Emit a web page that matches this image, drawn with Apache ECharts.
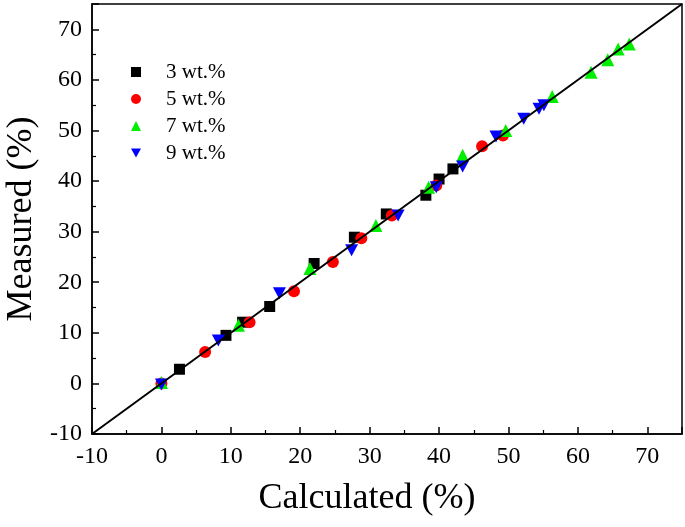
<!DOCTYPE html>
<html><head><meta charset="utf-8">
<script src="https://cdn.jsdelivr.net/npm/echarts@6/dist/echarts.min.js"></script>
<style>html,body{margin:0;padding:0;background:#fff}#c{width:685px;height:527px}</style>
</head><body><div id="c"></div>
<script>
const seriesNames = ['3 wt.%', '5 wt.%', '7 wt.%', '9 wt.%'];
const wt3 = [[2.6,2.8],[9.3,9.5],[11.7,12.1],[15.6,15.2],[22.0,23.7],[27.8,28.9],[32.4,33.5],[38.1,37.2],[40.0,40.4],[42.0,42.4]];
const wt5 = [[0,0],[6.3,6.2],[12.7,12.1],[19.1,18.2],[24.7,24.0],[28.8,28.7],[33.2,33.2],[39.6,39.1],[46.2,46.9],[49.2,49.0]];
const wt7 = [[0,0.2],[11.1,11.5],[21.4,22.7],[30.9,31.2],[38.5,38.8],[43.4,45.1],[49.6,50.0],[56.3,56.7],[61.9,61.5],[64.3,64.0],[65.8,66.1],[67.4,67.1]];
const wt9 = [[0,-0.2],[8.2,8.5],[17.0,17.8],[27.4,26.3],[34.1,33.2],[39.6,38.8],[43.4,42.9],[48.2,48.8],[52.2,52.3],[54.4,54.3],[55.1,55.0]];
const refLine = [[-10,-10],[75,75]];
const axisMin = -10, axisMax = 75, axisStep = 10;

const font = 'Liberation Serif, Times New Roman, serif';
const chart = echarts.init(document.getElementById('c'));
const axisCommon = {
  type: 'value', min: axisMin, max: axisMax, interval: axisStep,
  axisLine: {show: true, onZero: false, lineStyle: {color: '#000', width: 1.5}},
  axisTick: {show: true, inside: true, length: 7, lineStyle: {color: '#000', width: 1.5}},
  minorTick: {show: true, splitNumber: 2, length: 4, lineStyle: {color: '#000', width: 1.2}},
  splitLine: {show: false},
  axisLabel: {color: '#000', fontFamily: font, fontSize: 24, showMaxLabel: false,
    formatter: v => (v > 70 ? '' : String(v))},
  nameLocation: 'middle',
  nameTextStyle: {color: '#000', fontFamily: font, fontSize: 36}
};
chart.setOption({
  animation: false,
  grid: {left: 92, right: 3, top: 4, bottom: 93, containLabel: false, outerBoundsMode: 'none',
    show: true, borderColor: '#000', borderWidth: 1.5},
  xAxis: Object.assign({}, axisCommon, {name: 'Calculated (%)', nameGap: 47,
    nameTextStyle: Object.assign({}, axisCommon.nameTextStyle, {padding: [0, 40, 0, 0]}),
    axisLabel: Object.assign({}, axisCommon.axisLabel, {margin: 11})}),
  yAxis: Object.assign({}, axisCommon, {name: 'Measured (%)', nameGap: 52,
    axisLabel: Object.assign({}, axisCommon.axisLabel, {margin: 10})}),
  legend: {
    orient: 'vertical', left: 131, top: 61, padding: 0, itemGap: 5, itemWidth: 10, itemHeight: 10,
    data: seriesNames,
    textStyle: {color: '#000', fontFamily: font, fontSize: 21, lineHeight: 22, padding: [0,0,0,20]}
  },
  series: [
    {name: seriesNames[0], type: 'scatter', data: wt3, symbol: 'rect', symbolSize: 11, itemStyle: {color: '#000', opacity: 1}, z: 2},
    {name: seriesNames[1], type: 'scatter', data: wt5, symbol: 'circle', symbolSize: 12, itemStyle: {color: '#ff0000', opacity: 1}, z: 2},
    {name: seriesNames[2], type: 'scatter', data: wt7, symbol: 'triangle', symbolSize: 13, itemStyle: {color: '#00ee00', opacity: 1}, z: 2},
    {name: seriesNames[3], type: 'scatter', data: wt9, symbol: 'path://M0,0 L10,0 L5,9 Z', symbolSize: [13, 12], itemStyle: {color: '#0000ff', opacity: 1}, z: 2},
    {type: 'line', data: refLine, symbol: 'none', lineStyle: {color: '#000', width: 2}, z: 5, silent: true}
  ]
});
</script></body></html>
